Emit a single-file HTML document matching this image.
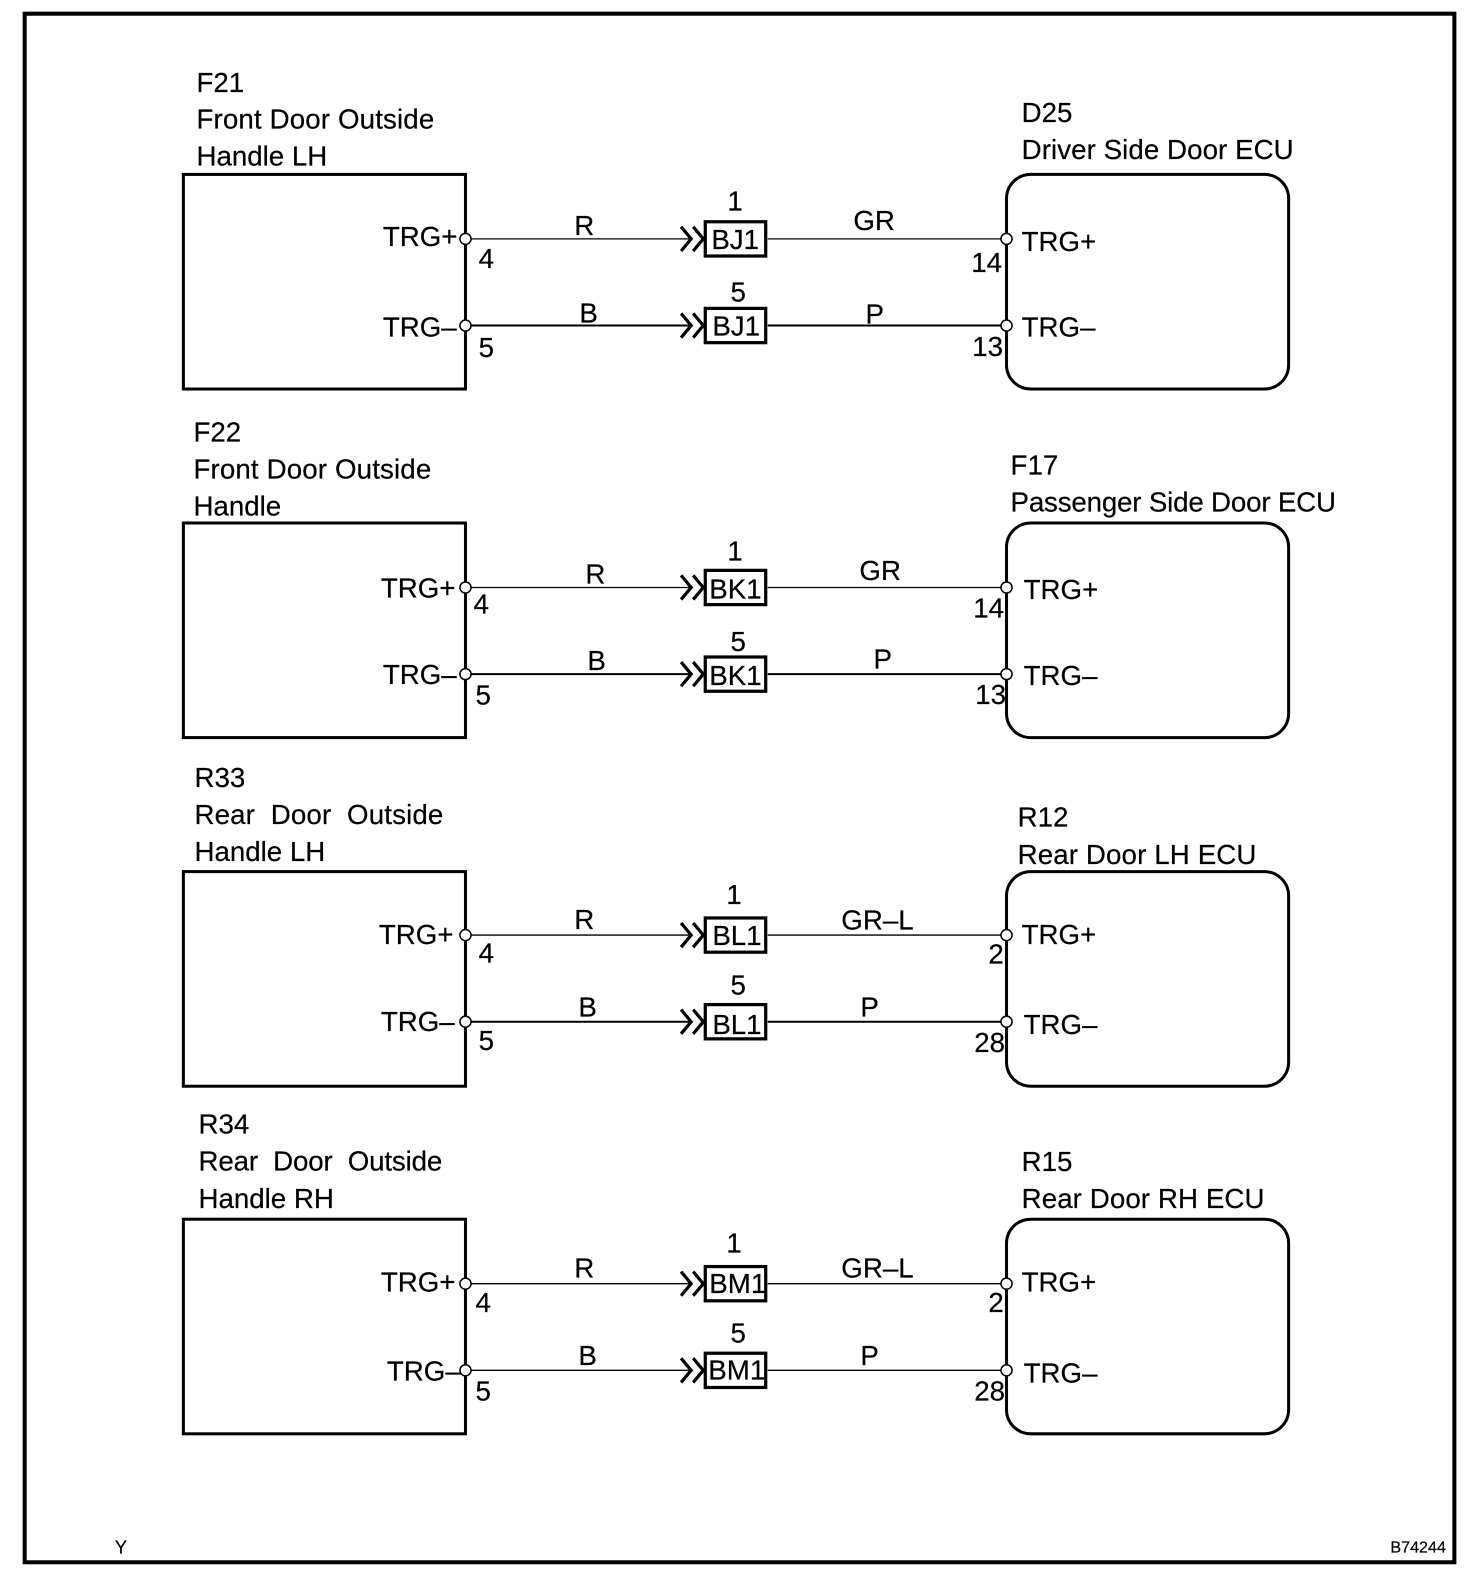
<!DOCTYPE html>
<html><head><meta charset="utf-8"><style>
html,body{margin:0;padding:0;background:#fff}
svg{display:block}
text{font-family:"Liberation Sans",sans-serif;font-size:27.5px;fill:#000;stroke:#000;stroke-width:.2}
.box{fill:none;stroke:#000;stroke-width:3}
.w{stroke:#000;stroke-width:1.3;fill:none}
.t{stroke:#000;stroke-width:2;fill:none}
.c{fill:#fff;stroke:#000;stroke-width:1.5}
.ch{fill:none;stroke:#000;stroke-width:3.2}
.k{fill:#fff;stroke:#000;stroke-width:3.2}
</style></head><body>
<svg xmlns="http://www.w3.org/2000/svg" width="1472" height="1580" viewBox="0 0 1461 1568">
<rect x="0" y="0" width="1461" height="1568" fill="#fff"/>
<rect x="24.5" y="13.5" width="1419" height="1537" fill="none" stroke="#000" stroke-width="4"/>

<rect class="box" x="182" y="173" width="280" height="213"/>
<rect class="box" x="182" y="519" width="280" height="213"/>
<rect class="box" x="182" y="865" width="280" height="213"/>
<rect class="box" x="182" y="1210" width="280" height="213"/>
<rect class="box" x="999" y="173" width="280" height="213" rx="24"/>
<rect class="box" x="999" y="519" width="280" height="213" rx="24"/>
<rect class="box" x="999" y="865" width="280" height="213" rx="24"/>
<rect class="box" x="999" y="1210" width="280" height="213" rx="24"/>

<path class="w" d="M462 237H685M762 237H999M462 583H685M762 583H999M462 928H685M762 928H999M462 1274H685M762 1274H999M462 1360H685M762 1360H999"/>
<path class="t" d="M462 323H685M762 323H999M462 669H685M762 669H999M462 1014H685M762 1014H999"/>

<path class="ch" d="M676 225L686 237L676 249M688 225L698 237L688 249"/>
<path class="ch" d="M676 311L686 323L676 335M688 311L698 323L688 335"/>
<path class="ch" d="M676 571L686 583L676 595M688 571L698 583L688 595"/>
<path class="ch" d="M676 657L686 669L676 681M688 657L698 669L688 681"/>
<path class="ch" d="M676 916L686 928L676 940M688 916L698 928L688 940"/>
<path class="ch" d="M676 1002L686 1014L676 1026M688 1002L698 1014L688 1026"/>
<path class="ch" d="M676 1262L686 1274L676 1286M688 1262L698 1274L688 1286"/>
<path class="ch" d="M676 1348L686 1360L676 1372M688 1348L698 1360L688 1372"/>

<rect class="k" x="700" y="220" width="60" height="34"/>
<rect class="k" x="700" y="306" width="60" height="34"/>
<rect class="k" x="700" y="566" width="60" height="34"/>
<rect class="k" x="700" y="652" width="60" height="34"/>
<rect class="k" x="700" y="911" width="60" height="34"/>
<rect class="k" x="700" y="997" width="60" height="34"/>
<rect class="k" x="700" y="1257" width="60" height="34"/>
<rect class="k" x="700" y="1343" width="60" height="34"/>

<g class="c">
<circle cx="462" cy="237" r="5.5"/><circle cx="462" cy="323" r="5.5"/><circle cx="462" cy="583" r="5.5"/><circle cx="462" cy="669" r="5.5"/><circle cx="462" cy="928" r="5.5"/><circle cx="462" cy="1014" r="5.5"/><circle cx="462" cy="1274" r="5.5"/><circle cx="462" cy="1360" r="5.5"/>
<circle cx="999" cy="237" r="5.5"/><circle cx="999" cy="323" r="5.5"/><circle cx="999" cy="583" r="5.5"/><circle cx="999" cy="669" r="5.5"/><circle cx="999" cy="928" r="5.5"/><circle cx="999" cy="1014" r="5.5"/><circle cx="999" cy="1274" r="5.5"/><circle cx="999" cy="1360" r="5.5"/>
</g>

<text x="195" y="91">F21</text><text x="195" y="127.6" textLength="236">Front Door Outside</text><text x="195" y="164">Handle LH</text>
<text x="1014" y="121">D25</text><text x="1014" y="157.6" textLength="270">Driver Side Door ECU</text>
<text x="380" y="244">TRG+</text><text x="380" y="334">TRG–</text>
<text x="475" y="266">4</text><text x="475" y="354">5</text>
<text x="570" y="233">R</text><text x="575" y="320">B</text>
<text x="722" y="209">1</text><text x="725" y="299">5</text>
<text x="706" y="247">BJ1</text><text x="707" y="333">BJ1</text>
<text x="847" y="228">GR</text><text x="859" y="321">P</text>
<text x="964" y="270">14</text><text x="965" y="353">13</text>
<text x="1014" y="249">TRG+</text><text x="1014" y="334">TRG–</text>

<text x="192" y="438">F22</text><text x="192" y="474.6" textLength="236">Front Door Outside</text><text x="192" y="511.6">Handle</text>
<text x="1003" y="471">F17</text><text x="1003" y="507.6" textLength="323">Passenger Side Door ECU</text>
<text x="378" y="593">TRG+</text><text x="380" y="679">TRG–</text>
<text x="470" y="609">4</text><text x="472" y="699">5</text>
<text x="581" y="579">R</text><text x="583" y="665">B</text>
<text x="722" y="556">1</text><text x="725" y="646">5</text>
<text x="704" y="594">BK1</text><text x="704" y="680">BK1</text>
<text x="853" y="575.6">GR</text><text x="867" y="663.6">P</text>
<text x="966" y="613">14</text><text x="968" y="698.6">13</text>
<text x="1016" y="594.6">TRG+</text><text x="1016" y="679.6">TRG–</text>

<text x="193" y="781">R33</text><text x="193" y="817.6" textLength="247">Rear&#160; Door&#160; Outside</text><text x="193" y="854.6">Handle LH</text>
<text x="1010" y="820">R12</text><text x="1010" y="857.6" textLength="237">Rear Door LH ECU</text>
<text x="376" y="937">TRG+</text><text x="378" y="1023">TRG–</text>
<text x="475" y="955">4</text><text x="475" y="1042">5</text>
<text x="570" y="922">R</text><text x="574" y="1009">B</text>
<text x="721" y="897">1</text><text x="725" y="987">5</text>
<text x="707" y="938">BL1</text><text x="707" y="1026">BL1</text>
<text x="835" y="922.6">GR–L</text><text x="854" y="1008.6">P</text>
<text x="981" y="956">2</text><text x="967" y="1044">28</text>
<text x="1014" y="937">TRG+</text><text x="1016" y="1026">TRG–</text>

<text x="197" y="1125">R34</text><text x="197" y="1161.6" textLength="242">Rear&#160; Door&#160; Outside</text><text x="197" y="1199">Handle RH</text>
<text x="1014" y="1162">R15</text><text x="1014" y="1199" textLength="241">Rear Door RH ECU</text>
<text x="378" y="1282">TRG+</text><text x="384" y="1370">TRG–</text>
<text x="472" y="1302">4</text><text x="472" y="1390">5</text>
<text x="570" y="1268">R</text><text x="574" y="1354.6">B</text>
<text x="721" y="1243">1</text><text x="725" y="1332.6">5</text>
<text x="704" y="1283">BM1</text><text x="703" y="1369">BM1</text>
<text x="835" y="1268">GR–L</text><text x="854" y="1354.6">P</text>
<text x="981" y="1302">2</text><text x="967" y="1390">28</text>
<text x="1014" y="1282">TRG+</text><text x="1016" y="1372">TRG–</text>

<text x="114" y="1542" style="font-size:18px">Y</text>
<text x="1380" y="1541" style="font-size:16px">B74244</text>
</svg>
</body></html>
